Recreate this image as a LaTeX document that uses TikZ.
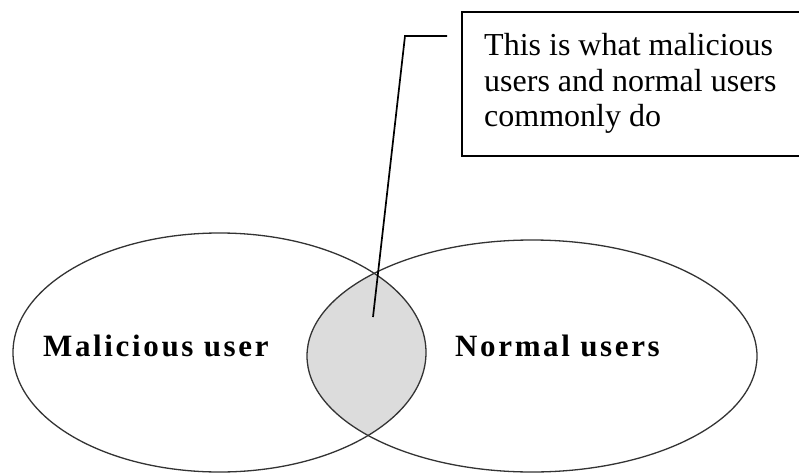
\documentclass[tikz,border=0pt]{standalone}
\usepackage{fontspec}
\setmainfont{Liberation Serif}
\newfontfamily\labelfont[LetterSpace=8.5]{Liberation Serif}
\usetikzlibrary{calc}
\definecolor{lensgray}{HTML}{DCDCDC}
\definecolor{rimgray}{HTML}{333333}
\tikzset{
  setrim/.style={draw=rimgray, line width=1.3pt},
  calloutbox/.style={draw=black, line width=2pt},
  leader/.style={draw=black, line width=1.7pt, line join=miter},
  notetext/.style={anchor=base west, inner sep=0pt, font=\fontsize{32}{36}\selectfont},
  setlabel/.style={anchor=base west, inner sep=0pt, font=\labelfont\bfseries\fontsize{31}{35}\selectfont}
}
\begin{document}
\begin{tikzpicture}[x=1pt, y=-1pt]
  \useasboundingbox (0,0) rectangle (799,473);

  % overlap of the two sets, shaded
  \begin{scope}
    \clip (219.5,352.5) ellipse [x radius=206.5, y radius=119.5];
    \fill[lensgray] (532,356) ellipse [x radius=225, y radius=116];
  \end{scope}

  % the two sets
  \path[setrim] (219.5,352.5) ellipse [x radius=206.5, y radius=119.5];
  \path[setrim] (532,356) ellipse [x radius=225, y radius=116];

  \node[setlabel] (malicious) at (43,356) {Malicious user};
  \node[setlabel] (normal) at (455,356) {Normal users};

  % callout box with its note
  \path[calloutbox] (462,12) rectangle (830,156);
  \node[notetext] (line1) at (484,56) {This is what malicious};
  \node[notetext] (line2) at (484,91.5) {users and normal users};
  \node[notetext] (line3) at (484,127) {commonly do};

  % leader from the box into the overlap
  \coordinate (tail) at (447,36);
  \coordinate (knee) at (405,36);
  \coordinate (tip) at (373,317);
  \path[leader] (tail) -- (knee) -- (tip);
\end{tikzpicture}
\end{document}
